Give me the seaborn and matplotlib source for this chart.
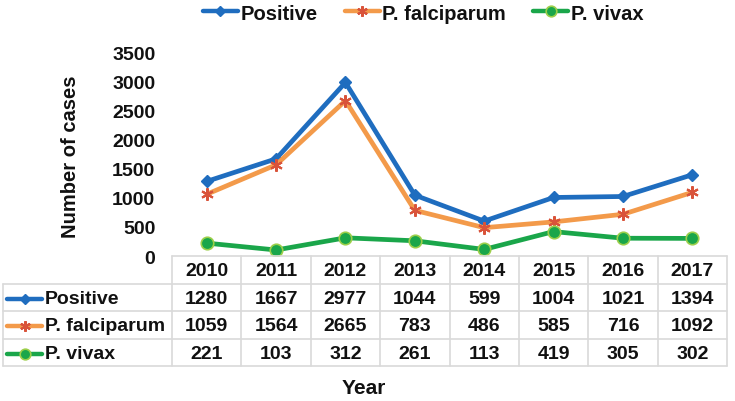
import matplotlib
matplotlib.use("Agg")
import matplotlib.pyplot as plt
import seaborn as sns
import pandas as pd
from matplotlib.lines import Line2D

years = ["2010", "2011", "2012", "2013", "2014", "2015", "2016", "2017"]
positive = [1280, 1667, 2977, 1044, 599, 1004, 1021, 1394]
falciparum = [1059, 1564, 2665, 783, 486, 585, 716, 1092]
vivax = [221, 103, 312, 261, 113, 419, 305, 302]
series_names = ["Positive", "P. falciparum", "P. vivax"]
yticks = [0, 500, 1000, 1500, 2000, 2500, 3000, 3500]

sns.set_theme(style="white")
plt.rcParams['font.family'] = ['Liberation Sans', 'DejaVu Sans']
plt.rcParams['font.weight'] = 'bold'
plt.rcParams['text.color'] = '#111111'

W, H = 735, 402
fig = plt.figure(figsize=(W / 100, H / 100), dpi=100)

def fx(x):
    return x / W

def fy(y):
    return 1 - y / H

FS = 14
left, right, top, bottom = 172, 727, 53, 257
ax = fig.add_axes([fx(left), fy(bottom), fx(right) - fx(left), fy(top) - fy(bottom)])

df = pd.DataFrame({
    "pos": list(range(len(years))) * 3,
    "value": positive + falciparum + vivax,
    "series": sum([[s] * len(years) for s in series_names], []),
})

colors = {"Positive": "#1f6dbf", "P. falciparum": "#f39a4a", "P. vivax": "#1aa64a"}
styles = {
    "Positive": dict(marker="D", ms=6, mfc="#1f6dbf", mec="#1f6dbf", mew=1),
    "P. falciparum": dict(marker=(6, 2, 0), ms=9, mfc="#e0603a", mec="#d9533a", mew=1.5),
    "P. vivax": dict(marker="o", ms=9, mfc="#1aa64a", mec="#9ccf4a", mew=1.2),
}

for s in series_names:
    sub = df[df.series == s]
    sns.lineplot(data=sub, x="pos", y="value", ax=ax, color=colors[s], lw=3.4,
                 legend=False, **styles[s])

ax.set_xlim(-0.5, len(years) - 0.5)
ax.set_ylim(0, 3500)
ax.set_yticks(yticks)
ax.set_yticklabels([str(t) for t in yticks], fontsize=FS, fontweight='bold', color='#111111')
ax.set_xticks([])
ax.set_xlabel("")
ax.set_ylabel("")
for sp in ax.spines.values():
    sp.set_visible(False)
ax.tick_params(axis='y', length=0, pad=12)
ax.patch.set_alpha(0)

fig.text(fx(70), fy(157), "Number of cases", rotation=90, ha="center", va="center",
         fontsize=14.5, fontweight="bold")
fig.text(fx(364), fy(389), "Year", ha="center", va="center", fontsize=15, fontweight="bold")

# Data table
grid_c = "#d9d9d9"
colw = (right - left) / len(years)
row_y = [257, 285, 312, 340, 367]
tl = fig.transFigure
fig.add_artist(Line2D([fx(left), fx(right)], [fy(row_y[0])] * 2, color=grid_c, lw=1.2, transform=tl))
for y in row_y[1:]:
    fig.add_artist(Line2D([fx(3), fx(right)], [fy(y)] * 2, color=grid_c, lw=1.2, transform=tl))
for k in range(len(years) + 1):
    x = left + k * colw
    fig.add_artist(Line2D([fx(x)] * 2, [fy(row_y[0]), fy(row_y[-1])], color=grid_c, lw=1.2, transform=tl))
fig.add_artist(Line2D([fx(3)] * 2, [fy(row_y[1]), fy(row_y[-1])], color=grid_c, lw=1.2, transform=tl))

for k, yr in enumerate(years):
    cx = left + (k + 0.5) * colw
    fig.text(fx(cx), fy((row_y[0] + row_y[1]) / 2 + 1), yr, ha="center", va="center",
             fontsize=FS, fontweight="bold")

all_vals = [positive, falciparum, vivax]
for r, (s, vals) in enumerate(zip(series_names, all_vals)):
    cy = (row_y[r + 1] + row_y[r + 2]) / 2 + 1
    fig.add_artist(Line2D([fx(7), fx(42)], [fy(cy)] * 2, color=colors[s], lw=3.2, transform=tl))
    st = dict(styles[s])
    st["ms"] = st["ms"] * 0.85
    fig.add_artist(Line2D([fx(24.5)], [fy(cy)], color=colors[s], lw=0, transform=tl, **st))
    fig.text(fx(45), fy(cy), s, ha="left", va="center", fontsize=FS, fontweight="bold")
    for k, v in enumerate(vals):
        cx = left + (k + 0.5) * colw
        fig.text(fx(cx), fy(cy), str(v), ha="center", va="center", fontsize=FS, fontweight="bold")

# Legend
handles = [Line2D([], [], color=colors[s], lw=3.2, **dict(styles[s], ms=styles[s]["ms"] * 0.85))
           for s in series_names]
fig.legend(handles, series_names, loc="center", bbox_to_anchor=(fx(423), fy(14)), ncol=3,
           frameon=False, prop=dict(weight="bold", size=14.5), handlelength=1.75,
           handletextpad=0.12, columnspacing=1.35, borderpad=0.1)

fig.savefig("out.png", dpi=100)
